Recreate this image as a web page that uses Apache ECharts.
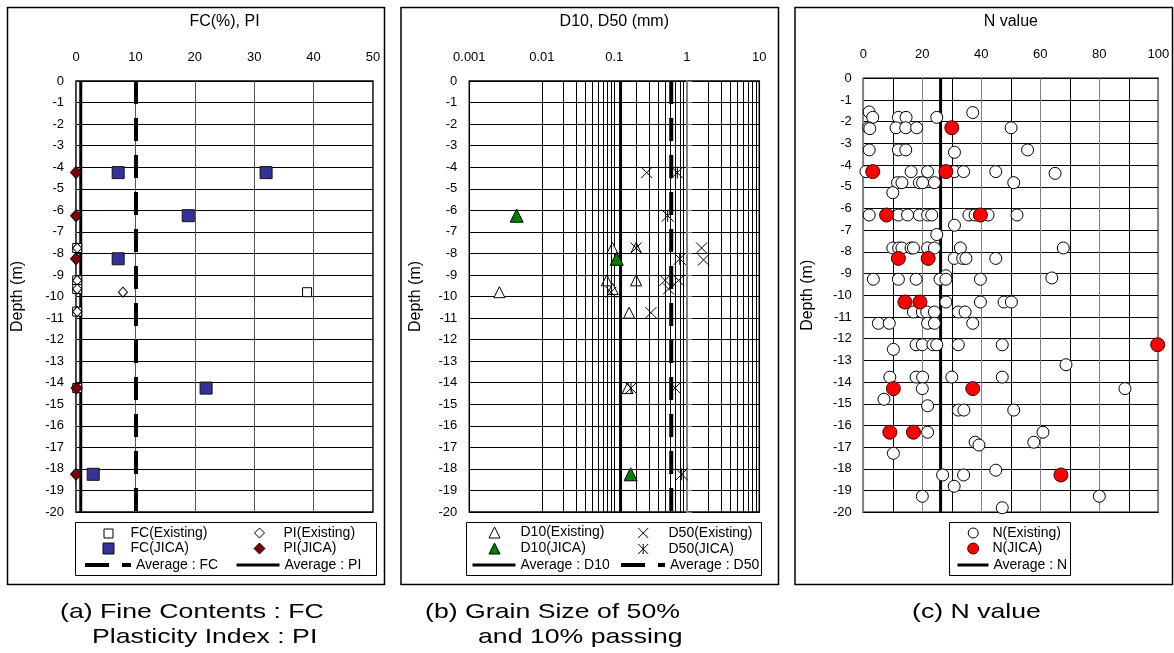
<!DOCTYPE html>
<html><head><meta charset="utf-8">
<script src="https://cdn.jsdelivr.net/npm/echarts@6/dist/echarts.min.js"></script>
<style>html,body{margin:0;padding:0;background:#fff}#c{width:1174px;height:653px}</style>
</head><body><div id="c"></div>
<script>
// ---------- data (value, depth m) ----------
const fcExisting = [[0.2,-7.75],[0.2,-9.25],[0.2,-9.65],[0.2,-10.7],[38.9,-9.8],[0.2,-14.25]];
const piExisting = [[0.2,-7.75],[0.2,-9.25],[0.2,-9.65],[0.2,-10.7],[7.9,-9.8]];
const fcJica = [[7.1,-4.25],[32.0,-4.25],[18.9,-6.25],[7.1,-8.25],[21.9,-14.25],[2.9,-18.25]];
const piJica = [[0.0,-4.25],[0.0,-6.25],[0.0,-8.25],[0.1,-14.25],[0.0,-18.25]];
const avgFC = 10.1;
const avgPI = 0.8;

const d10Existing = [[0.0026,-9.8],[0.094,-7.75],[0.2,-7.75],[0.079,-9.25],[0.2,-9.25],[0.095,-9.65],[0.16,-10.75],[0.153,-14.25]];
const d50Existing = [[0.28,-4.25],[0.2,-7.75],[1.6,-7.75],[1.7,-8.3],[0.5,-9.25],[0.77,-9.25],[0.56,-9.65],[0.09,-9.8],[0.32,-10.75],[0.69,-14.25]];
const d10Jica = [[0.0045,-6.25],[0.108,-8.25],[0.168,-18.25]];
const d50Jica = [[0.74,-4.25],[0.545,-6.25],[0.8,-8.25],[0.17,-14.25],[0.85,-18.25]];
const avgD10 = 0.122;
const avgD50 = 0.61;
const logTickLabels = ['0.001','0.01','0.1','1','10'];
const logMinorGrid = [0.002,0.003,0.004,0.005,0.006,0.007,0.008,0.009,
  0.02,0.03,0.04,0.05,0.06,0.07,0.08,0.09,
  0.2,0.3,0.4,0.5,0.6,0.7,0.8,0.9,
  2,3,4,5,6,7,8,9];

const nExisting = [
  [2.0,-1.55],[37.1,-1.58],
  [3.2,-1.8],[11.9,-1.8],[14.5,-1.8],[24.9,-1.8],
  [1.8,-2.28],[2.2,-2.32],[11.1,-2.28],[14.4,-2.28],[18.1,-2.28],[50.1,-2.28],
  [2.0,-3.3],[11.9,-3.3],[14.4,-3.3],[55.7,-3.3],[30.9,-3.41],
  [0.9,-4.3],[16.2,-4.3],[21.8,-4.3],[30.9,-4.3],[34.0,-4.3],[44.9,-4.3],[65.0,-4.38],
  [11.6,-4.81],[13.1,-4.81],[19.0,-4.81],[20.1,-4.81],[24.1,-4.81],[51.0,-4.81],
  [10.0,-5.27],
  [2.0,-6.3],[11.9,-6.3],[15.0,-6.3],[19.0,-6.3],[21.8,-6.3],[23.2,-6.3],[35.8,-6.3],[37.9,-6.3],[42.3,-6.3],[52.1,-6.3],
  [30.9,-6.77],[24.9,-7.2],
  [10.0,-7.82],[12.0,-7.82],[13.1,-7.82],[16.2,-7.82],[17.0,-7.82],[21.8,-7.82],[24.1,-7.82],[32.9,-7.82],[67.8,-7.82],
  [30.8,-8.3],[33.7,-8.3],[34.8,-8.3],[44.9,-8.3],
  [28.0,-9.1],
  [3.4,-9.26],[11.9,-9.26],[17.9,-9.26],[26.0,-9.26],[28.0,-9.26],[39.7,-9.26],[63.9,-9.2],
  [28.0,-10.31],[39.7,-10.31],[47.7,-10.31],[50.2,-10.31],
  [17.0,-10.77],[20.0,-10.77],[21.5,-10.77],[24.1,-10.77],[32.2,-10.77],[34.5,-10.77],
  [5.1,-11.29],[8.8,-11.29],[21.8,-11.29],[24.1,-11.29],[37.1,-11.29],
  [17.9,-12.28],[20.0,-12.28],[23.6,-12.28],[24.9,-12.28],[32.2,-12.28],[47.1,-12.28],
  [10.2,-12.49],[68.7,-13.2],
  [9.0,-13.77],[17.9,-13.77],[20.1,-13.77],[30.0,-13.77],[47.1,-13.77],
  [20.0,-14.3],[88.7,-14.3],
  [7.0,-14.79],[21.8,-15.09],
  [32.2,-15.29],[34.1,-15.29],[51.0,-15.29],
  [21.8,-16.31],[60.9,-16.31],
  [37.9,-16.77],[57.8,-16.77],[39.2,-16.9],
  [10.2,-17.28],[44.9,-18.06],
  [26.9,-18.28],[34.0,-18.28],
  [30.8,-18.8],
  [20.0,-19.26],[80.0,-19.26],
  [47.1,-19.79]
];
const nJica = [[30.0,-2.28],[3.2,-4.3],[28.0,-4.3],[7.9,-6.3],[39.7,-6.3],[11.9,-8.3],[22.0,-8.3],
  [14.1,-10.31],[19.2,-10.31],[99.8,-12.28],[10.2,-14.3],[37.1,-14.3],[9.0,-16.31],[17.0,-16.31],[67.0,-18.28]];
const avgN = 26.2;

// ---------- style helpers ----------
const FONT = '"Liberation Sans", Arial, sans-serif';
const TXT = {color:'#000', fontFamily: FONT};
const XPATH = 'path://M0,0L10,10M10,0L0,10';
const ASTPATH = 'path://M0,0L10,10M10,0L0,10M5,0L5,10';

function yAx(grid, margin, nameGap) {
  return {
    type:'value', gridIndex:grid, min:-20, max:0, interval:1,
    name:'Depth (m)', nameLocation:'middle', nameRotate:90, nameGap:nameGap,
    nameTextStyle: Object.assign({fontSize:16}, TXT),
    axisLine:{show:false}, axisTick:{show:false},
    axisLabel: Object.assign({fontSize:13, margin:margin}, TXT),
    splitLine:{show:true, lineStyle:{color:'#000', width:1}}
  };
}
// marker legend item: icon centred at cx, text starting at textX
function lgM(name, cx, cy, size, textX) {
  const pad = textX - (cx + size/2 + 5);
  return {
    data:[name], left:cx - size/2, top:cy - size/2, itemWidth:size, itemHeight:size, padding:0,
    selectedMode:false, orient:'horizontal',
    textStyle: Object.assign({fontSize:14, padding:[0,0,0,pad]}, TXT),
    itemStyle:{borderWidth:1}
  };
}
// line legend item: line from x0 to x1
function lgL(name, x0, x1, cy, width, type) {
  return {
    data:[name], left:x0, top:cy - 4, itemWidth:x1 - x0, itemHeight:8, padding:0,
    selectedMode:false, orient:'horizontal',
    textStyle: Object.assign({fontSize:14}, TXT),
    itemStyle:{opacity:0}, lineStyle:{width:width, type:type, color:'#000'}
  };
}
function scat(name, xi, data, symbol, size, color, border, z) {
  return {name:name, type:'scatter', xAxisIndex:xi, yAxisIndex:xi, data:data, symbol:symbol, symbolSize:size,
    z:z, itemStyle:{color:color, borderColor:border, borderWidth:1, opacity:1},
    emphasis:{disabled:true}};
}
const R1 = 531, R2 = 547, R3 = 562;
const capStyle = {fontSize:21, fontFamily:FONT, fill:'#000', verticalAlign:'middle'};

const option = {
  animation:false,
  backgroundColor:'#fff',
  grid:[
    {left:76, top:81, width:297, height:431, show:true, borderColor:'#000', borderWidth:1.5, backgroundColor:'transparent'},
    {left:469.3, top:81, width:290, height:431, show:true, borderColor:'#000', borderWidth:1.5, backgroundColor:'transparent'},
    {left:863.3, top:78.3, width:295, height:434, show:true, borderColor:'#000', borderWidth:1.5, backgroundColor:'transparent'}
  ],
  xAxis:[
    {type:'value', gridIndex:0, position:'top', min:0, max:50, interval:10,
     name:'FC(%), PI', nameLocation:'middle', nameGap:51, nameTextStyle:Object.assign({fontSize:16}, TXT),
     axisLine:{show:false}, axisTick:{show:false},
     axisLabel:Object.assign({fontSize:13, margin:17}, TXT),
     splitLine:{show:true, lineStyle:{color:'#555', width:1}}},
    {type:'log', logBase:10, gridIndex:1, position:'top', min:0.001, max:10,
     name:'D10, D50 (mm)', nameLocation:'middle', nameGap:51, nameTextStyle:Object.assign({fontSize:16}, TXT),
     axisLine:{show:false}, axisTick:{show:false},
     axisLabel:Object.assign({fontSize:13, margin:17,
       formatter:function(v){ return logTickLabels[Math.round(Math.log10(v)) + 3]; }}, TXT),
     splitLine:{show:true, lineStyle:{color:'#000', width:1}}},
    {type:'value', gridIndex:2, position:'top', min:0, max:100, interval:20,
     name:'N value', nameLocation:'middle', nameGap:49, nameTextStyle:Object.assign({fontSize:16}, TXT),
     axisLine:{show:false}, axisTick:{show:false},
     minorTick:{show:false, splitNumber:2},
     minorSplitLine:{show:true, lineStyle:{color:'#000', width:1}},
     axisLabel:Object.assign({fontSize:13, margin:17}, TXT),
     splitLine:{show:true, lineStyle:{color:'#808080', width:1}}}
  ],
  yAxis:[
    yAx(0, 12, 50),
    yAx(1, 12, 46),
    yAx(2, 11.5, 48),
    {type:'value', gridIndex:1, min:-20, max:0, interval:1, position:'left', offset:-217.4,
     axisLine:{show:true, lineStyle:{color:'#808080', width:2}},
     axisTick:{show:true, inside:true, length:5, lineStyle:{color:'#808080', width:1}},
     axisLabel:{show:false}, splitLine:{show:false}}
  ],
  legend:[
    lgM('FC(Existing)', 108, R1, 9, 130),
    lgM('FC(JICA)', 108, R2, 11, 130),
    lgL('Average : FC', 83, 129, R3, 4, [24,13]),
    lgM('PI(Existing)', 259, R1, 10, 283),
    lgM('PI(JICA)', 259, R2, 11, 283),
    lgL('Average : PI', 235, 278, R3, 3, 'solid'),

    lgM('D10(Existing)', 494, R1, 11, 520),
    lgM('D10(JICA)', 494, R2, 11, 520),
    lgL('Average : D10', 471, 514, R3, 3, 'solid'),
    lgM('D50(Existing)', 642.7, R1, 10, 668),
    lgM('D50(JICA)', 642.7, R2, 10, 668),
    lgL('Average : D50', 619, 663, R3, 4, [24,13]),

    lgM('N(Existing)', 972.7, R1, 10, 992),
    lgM('N(JICA)', 972.7, R2, 11, 992),
    lgL('Average : N', 956, 987, R3, 3, 'solid')
  ],
  series:[
    // (a)
    {name:'Average : FC', type:'line', xAxisIndex:0, yAxisIndex:0, data:[[avgFC,0],[avgFC,-20]], symbol:'none', z:1,
     lineStyle:{color:'#000', width:4, type:[23,14]}},
    {name:'Average : PI', type:'line', xAxisIndex:0, yAxisIndex:0, data:[[avgPI,0],[avgPI,-20]], symbol:'none', z:1,
     lineStyle:{color:'#000', width:3}},
    scat('FC(Existing)', 0, fcExisting, 'rect', 9, '#fff', '#000', 2),
    scat('PI(Existing)', 0, piExisting, 'diamond', [9,10], '#fff', '#000', 2),
    scat('FC(JICA)', 0, fcJica, 'rect', 12, '#333399', '#111', 3),
    scat('PI(JICA)', 0, piJica, 'diamond', [11,12], '#800000', '#111', 3),
    // (b)
    {name:'Average : D10', type:'line', xAxisIndex:1, yAxisIndex:1, data:[[avgD10,0],[avgD10,-20]], symbol:'none', z:1,
     lineStyle:{color:'#000', width:3},
     markLine:{silent:true, symbol:['none','none'], label:{show:false}, animation:false,
       lineStyle:{color:'#000', width:1, type:'solid'}, emphasis:{disabled:true},
       data: logMinorGrid.map(function(v){ return {xAxis:v}; })}},
    {name:'Average : D50', type:'line', xAxisIndex:1, yAxisIndex:1, data:[[avgD50,0],[avgD50,-20]], symbol:'none', z:1,
     lineStyle:{color:'#000', width:4, type:[23,14]}},
    scat('D10(Existing)', 1, d10Existing, 'triangle', 11, '#fff', '#000', 2),
    scat('D50(Existing)', 1, d50Existing, XPATH, 11, '#000', '#000', 2),
    scat('D10(JICA)', 1, d10Jica, 'triangle', 13, '#008000', '#000', 3),
    scat('D50(JICA)', 1, d50Jica, ASTPATH, 12, '#000', '#000', 3),
    // (c)
    {name:'Average : N', type:'line', xAxisIndex:2, yAxisIndex:2, data:[[avgN,0],[avgN,-20]], symbol:'none', z:1,
     lineStyle:{color:'#000', width:3}},
    scat('N(Existing)', 2, nExisting, 'circle', 12, '#fff', '#000', 2),
    scat('N(JICA)', 2, nJica, 'circle', 14, '#ff0000', '#400000', 3)
  ],
  graphic:[
    {type:'rect', shape:{x:7.5, y:7.5, width:377, height:577}, style:{fill:'none', stroke:'#000', lineWidth:1.5}, silent:true, z:-1},
    {type:'rect', shape:{x:401, y:7.5, width:377.5, height:577}, style:{fill:'none', stroke:'#000', lineWidth:1.5}, silent:true, z:-1},
    {type:'rect', shape:{x:795, y:7.5, width:377.5, height:577}, style:{fill:'none', stroke:'#000', lineWidth:1.5}, silent:true, z:-1},
    {type:'rect', shape:{x:75.5, y:522.5, width:301, height:53}, style:{fill:'none', stroke:'#000', lineWidth:1}, silent:true},
    {type:'rect', shape:{x:466.5, y:522.5, width:295, height:53}, style:{fill:'none', stroke:'#000', lineWidth:1}, silent:true},
    {type:'rect', shape:{x:949.5, y:522.5, width:121, height:53}, style:{fill:'none', stroke:'#000', lineWidth:1}, silent:true},
    {type:'text', x:60, y:612, scaleX:1.27, style:Object.assign({text:'(a) Fine Contents : FC'}, capStyle)},
    {type:'text', x:92, y:637, scaleX:1.27, style:Object.assign({text:'Plasticity Index : PI'}, capStyle)},
    {type:'text', x:425, y:612, scaleX:1.27, style:Object.assign({text:'(b) Grain Size of 50%'}, capStyle)},
    {type:'text', x:478, y:637, scaleX:1.27, style:Object.assign({text:'and 10% passing'}, capStyle)},
    {type:'text', x:912, y:612, scaleX:1.27, style:Object.assign({text:'(c) N value'}, capStyle)}
  ]
};
const chart = echarts.init(document.getElementById('c'), null, {renderer:'canvas'});
chart.setOption(option);
</script>
</body></html>
